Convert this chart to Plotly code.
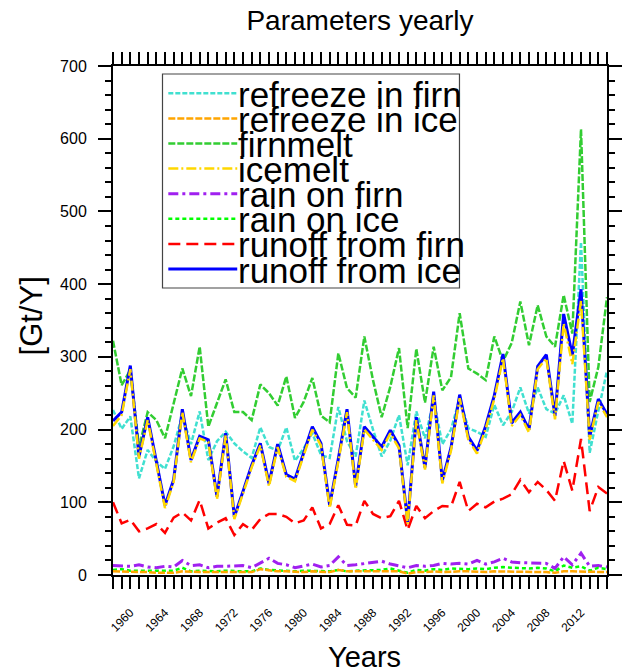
import plotly.graph_objects as go

# Annual totals, 1958-2015, in Gt per year
years = list(range(1958, 2016))

refreeze_firn = [227, 201, 218, 133, 172, 156, 146, 177, 220, 180,
                 225, 158, 184, 197, 181, 170, 161, 203, 176, 171,
                 203, 157, 174, 195, 165, 161, 231, 184, 163, 240,
                 200, 163, 185, 220, 151, 225, 188, 240, 180, 200,
                 243, 202, 197, 190, 234, 206, 224, 258, 222, 258,
                 228, 222, 247, 208, 458, 168, 226, 281]

refreeze_ice = [5, 5, 5, 5, 4, 3, 3, 3, 5, 4,
                4, 4, 4, 4, 3, 4, 4, 8, 6, 5,
                5, 4, 4, 5, 5, 4, 7, 5, 5, 5,
                5, 5, 6, 5, 2, 4, 4, 5, 4, 5,
                5, 5, 4, 4, 5, 5, 5, 5, 4, 4,
                4, 3, 5, 5, 5, 4, 4, 4]

firnmelt = [322, 261, 282, 176, 224, 213, 188, 236, 284, 246,
            314, 204, 236, 269, 224, 224, 213, 262, 250, 233,
            273, 216, 238, 271, 219, 210, 305, 257, 244, 328,
            268, 217, 259, 312, 202, 311, 237, 314, 254, 272,
            360, 284, 277, 268, 328, 294, 319, 376, 316, 371,
            328, 314, 385, 332, 613, 238, 286, 382]

icemelt = [205, 220, 283, 160, 213, 152, 92, 128, 224, 155,
           188, 183, 104, 192, 77, 112, 148, 178, 122, 176,
           135, 129, 165, 200, 178, 92, 156, 224, 118, 200,
           186, 172, 195, 174, 70, 213, 145, 247, 126, 171,
           243, 186, 167, 201, 242, 298, 205, 220, 196, 283,
           298, 214, 346, 290, 377, 186, 238, 217]

rain_firn = [13, 12, 12, 14, 11, 10, 12, 11, 20, 13,
             14, 10, 12, 12, 13, 13, 10, 16, 23, 16,
             14, 10, 12, 15, 11, 13, 25, 13, 14, 16,
             18, 19, 15, 13, 10, 13, 12, 13, 16, 15,
             16, 15, 20, 15, 18, 23, 18, 17, 17, 16,
             16, 9, 25, 14, 30, 12, 13, 11]

rain_ice = [7, 8, 6, 6, 5, 5, 5, 6, 10, 5,
            6, 5, 5, 6, 5, 5, 5, 9, 7, 6,
            5, 5, 6, 6, 5, 5, 7, 5, 6, 6,
            7, 7, 9, 6, 3, 7, 6, 8, 7, 9,
            8, 8, 9, 8, 10, 11, 10, 9, 9, 10,
            9, 5, 13, 10, 12, 6, 10, 8]

runoff_firn = [100, 71, 76, 60, 64, 70, 58, 79, 86, 75,
               103, 64, 72, 78, 55, 70, 62, 77, 84, 84,
               80, 71, 75, 93, 64, 70, 96, 69, 68, 102,
               84, 78, 81, 102, 62, 95, 78, 88, 95, 94,
               128, 88, 98, 93, 101, 105, 111, 131, 114, 128,
               117, 102, 157, 116, 187, 88, 121, 112]

runoff_ice = [212, 224, 288, 163, 217, 156, 96, 131, 228, 158,
              191, 186, 108, 195, 80, 115, 151, 181, 126, 180,
              138, 132, 168, 204, 181, 96, 160, 228, 122, 204,
              190, 176, 199, 178, 73, 217, 148, 252, 130, 175,
              248, 190, 171, 205, 247, 304, 209, 224, 200, 287,
              303, 219, 359, 302, 393, 190, 242, 221]

tick_labels = ["1960", "1964", "1968", "1972", "1976", "1980", "1984",
               "1988", "1992", "1996", "2000", "2004", "2008", "2012"]

# name, values, colour, width, dash (legend order)
series = [
    ("refreeze in firn", refreeze_firn, "#40E0D0", 2.5, "5px,2px"),
    ("refreeze in ice", refreeze_ice, "#FFA500", 2.5, "7px,2px"),
    ("firnmelt", firnmelt, "#32CD32", 2.5, "7px,2px"),
    ("icemelt", icemelt, "#FFD700", 2.5, "10px,3px,2px,3px"),
    ("rain on firn", rain_firn, "#A020F0", 3.0, "10px,4px,3px,4px"),
    ("rain on ice", rain_ice, "#00FF00", 2.5, "4px,3px"),
    ("runoff from firn", runoff_firn, "#FF0000", 2.5, "12px,6px"),
    ("runoff from ice", runoff_ice, "#0000FF", 3.0, "solid"),
]

# drawing order: icemelt sits on top of runoff from ice
draw_order = ["refreeze in firn", "firnmelt", "runoff from firn",
              "rain on firn", "rain on ice", "refreeze in ice",
              "runoff from ice", "icemelt"]

FONT = "Liberation Sans, Arial, Helvetica, sans-serif"

fig = go.Figure()
lookup = {s[0]: s for s in series}
for name in draw_order:
    _, vals, col, w, dash = lookup[name]
    fig.add_trace(go.Scatter(x=years, y=vals, mode="lines", name=name,
                             line=dict(color=col, width=w, dash=dash),
                             showlegend=False))

ticktext = [str(y) if str(y) in tick_labels else "" for y in years]

fig.update_layout(
    width=625, height=672,
    margin=dict(l=113, r=3, t=66, b=97),
    paper_bgcolor="white", plot_bgcolor="white",
    font=dict(family=FONT, color="black"),
    title=dict(text="Parameters yearly", x=0.5, xref="paper", xanchor="center",
               y=1 - 20 / 672, yanchor="middle", font=dict(size=28, family=FONT)),
    xaxis=dict(range=[1958, 2015], tickmode="array", tickvals=years,
               ticktext=ticktext, tickangle=-45, tickfont=dict(size=12),
               ticks="outside", ticklen=12, tickwidth=1.5, tickcolor="black",
               showline=True, linecolor="black", linewidth=2, mirror="ticks",
               showgrid=False, zeroline=False, ticklabelstandoff=12),
    yaxis=dict(range=[0, 700], tickmode="array", tickvals=list(range(0, 701, 100)),
               tickfont=dict(size=16), ticks="outside", ticklen=13, tickwidth=1.5,
               tickcolor="black",
               minor=dict(dtick=20, tick0=0, ticks="outside", ticklen=6,
                          tickwidth=1.5, tickcolor="black"),
               showline=True, linecolor="black", linewidth=2, mirror="ticks",
               showgrid=False, zeroline=False, ticklabelstandoff=8),
)

# axis titles
fig.add_annotation(text="[Gt/Y]", xref="paper", yref="paper",
                   x=(29 - 113) / 509, y=(575 - 316) / 509, textangle=-90,
                   showarrow=False, font=dict(size=31, family=FONT),
                   xanchor="center", yanchor="middle")
fig.add_annotation(text="Years", xref="paper", yref="paper",
                   x=(372 - 113) / 509, y=(575 - 657) / 509,
                   showarrow=False, font=dict(size=29, family=FONT),
                   xanchor="center", yanchor="middle")

# legend box drawn in paper space
def px_x(p):
    return (p - 113) / 509

def px_y(p):
    return (575 - p) / 509

fig.add_shape(type="rect", xref="paper", yref="paper",
              x0=px_x(164), x1=px_x(470), y0=px_y(288), y1=px_y(74),
              line=dict(color="#444444", width=1.2), fillcolor="white",
              layer="above")
for k, (name, _, col, w, dash) in enumerate(series):
    yrow = 93.3 + 25.1 * k
    fig.add_shape(type="line", xref="paper", yref="paper",
                  x0=px_x(170), x1=px_x(241), y0=px_y(yrow), y1=px_y(yrow),
                  line=dict(color=col, width=w, dash=dash), layer="above")
    fig.add_annotation(text=name, xref="paper", yref="paper",
                       x=px_x(240), y=px_y(yrow + 1), xanchor="left",
                       yanchor="middle", showarrow=False,
                       font=dict(size=35, family=FONT))

fig.write_html("out.html")
